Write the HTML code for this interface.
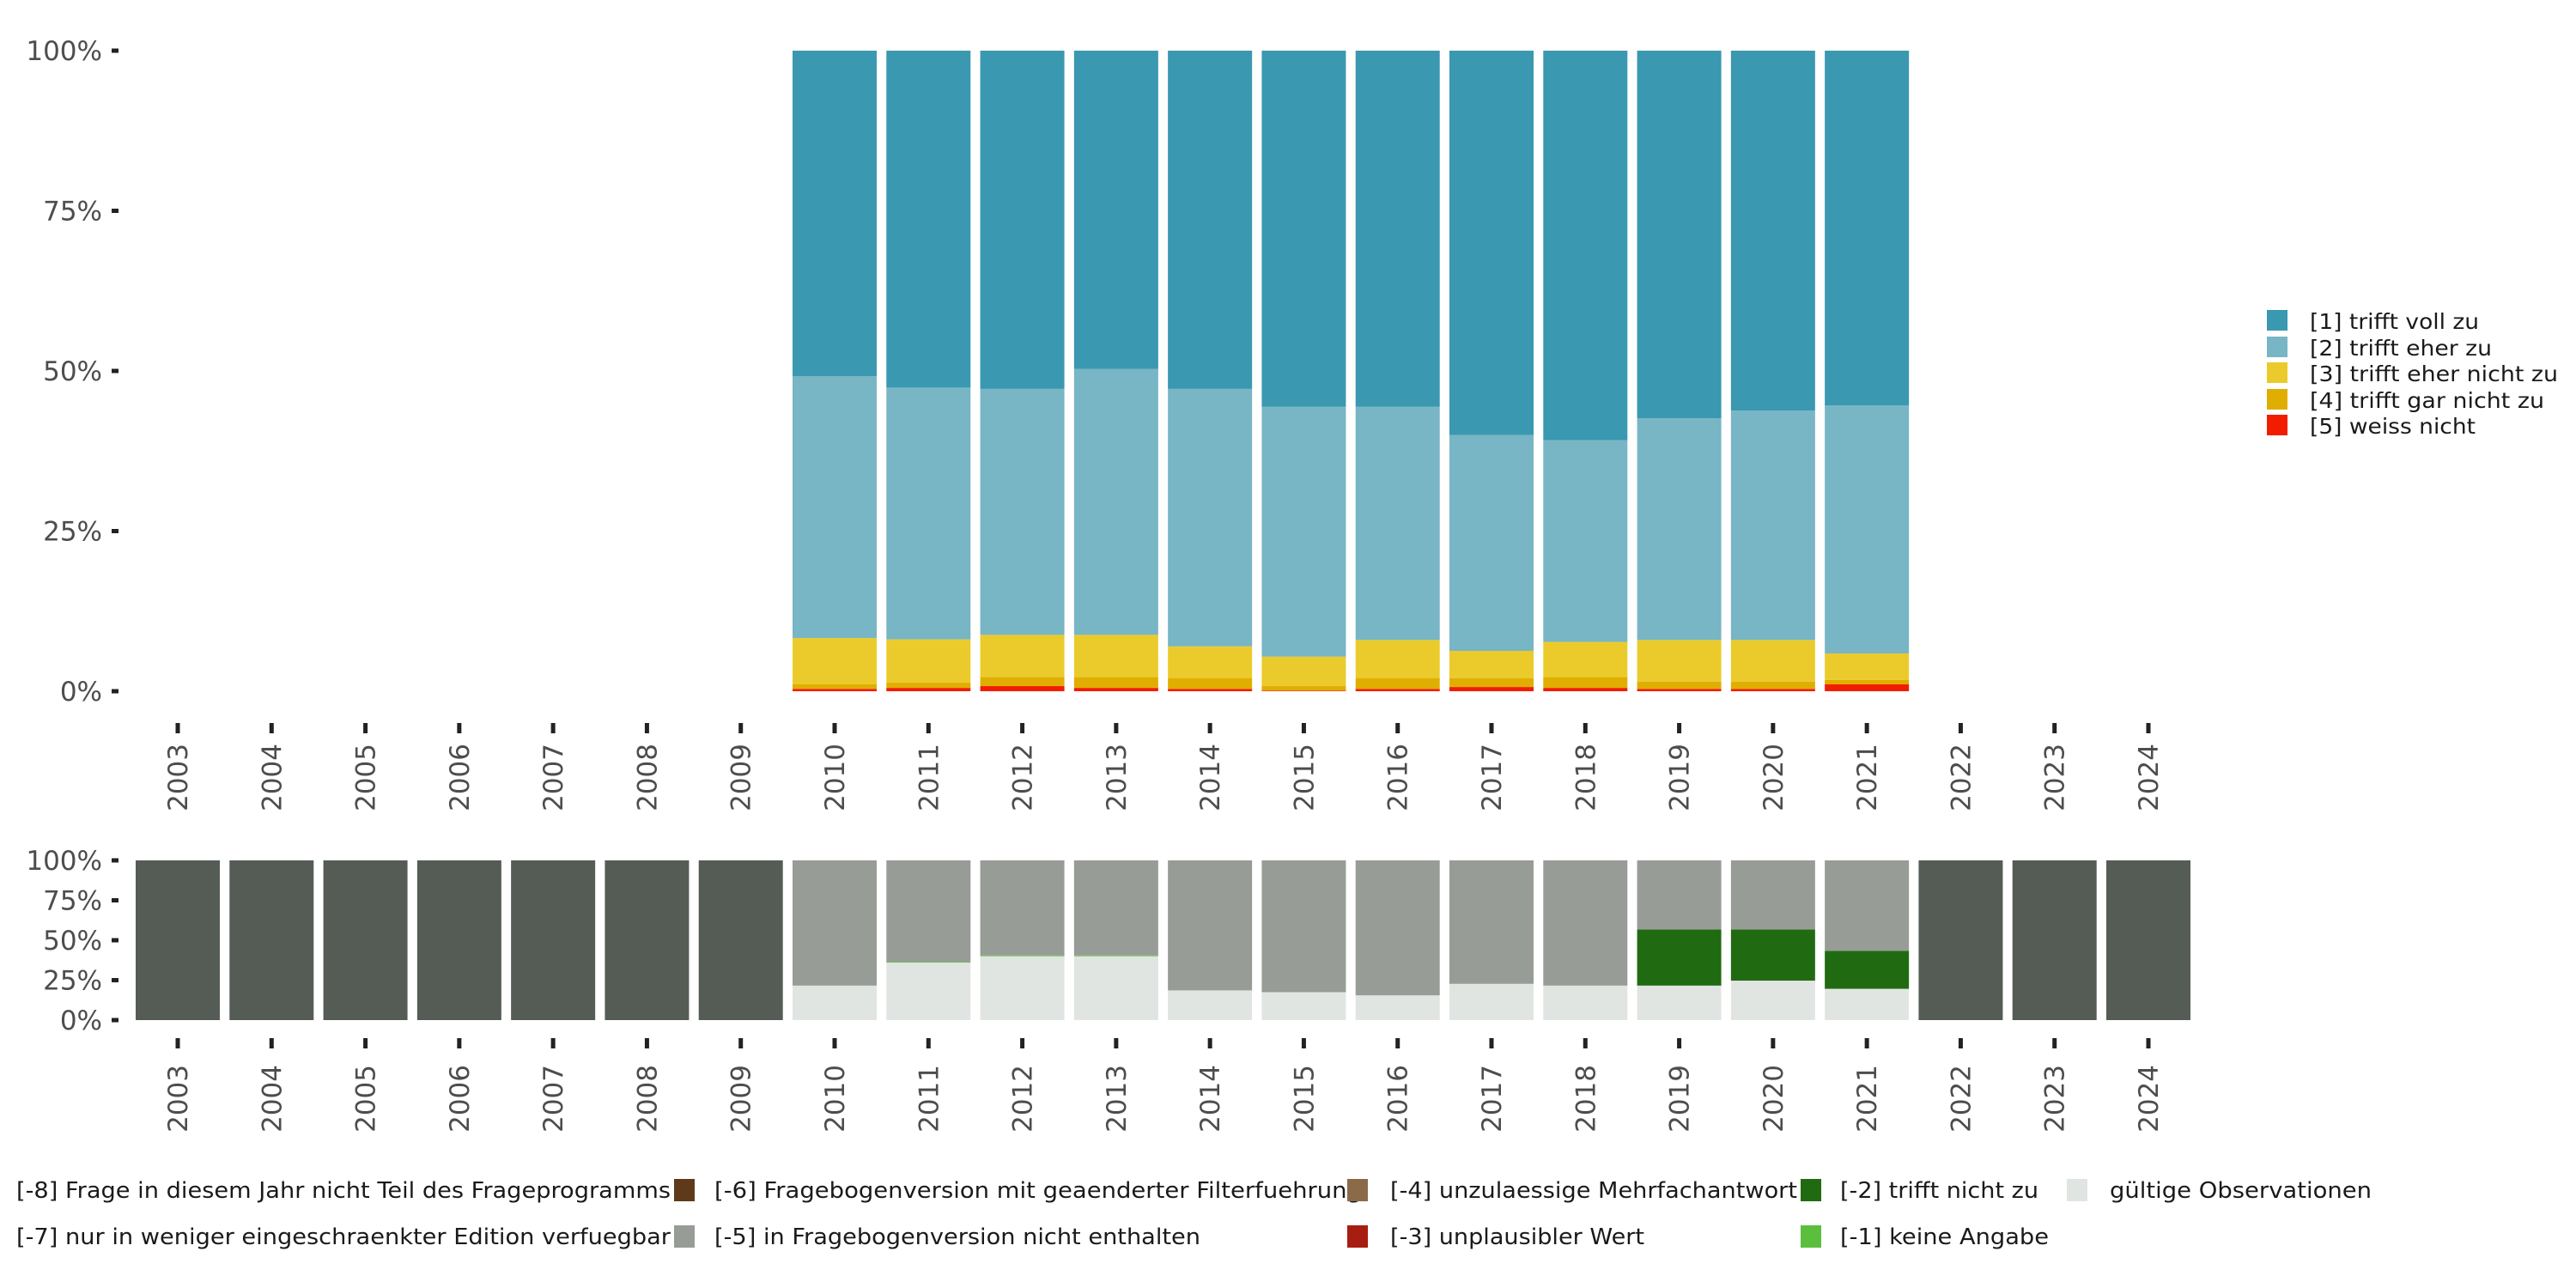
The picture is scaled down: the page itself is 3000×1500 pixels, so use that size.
<!DOCTYPE html>
<html><head><meta charset="utf-8"><style>
body{margin:0;background:#fff}
svg{display:block;font-family:"DejaVu Sans","Liberation Sans",sans-serif}
</style></head><body>
<svg id="chart" width="3000" height="1500" viewBox="0 0 3000 1500" xmlns="http://www.w3.org/2000/svg"></svg>
<script>
const years = [2003,2004,2005,2006,2007,2008,2009,2010,2011,2012,2013,2014,2015,2016,2017,2018,2019,2020,2021,2022,2023,2024];
const topYears = [2010,2011,2012,2013,2014,2015,2016,2017,2018,2019,2020,2021];
const s5 = [0.37,0.52,0.8,0.52,0.37,0.1,0.37,0.66,0.52,0.37,0.37,1.07];
const s4 = [0.70,0.84,1.4,1.68,1.69,0.7,1.69,1.4,1.68,1.13,1.13,0.71];
const s3 = [7.23,6.74,6.6,6.6,4.94,4.6,5.94,4.24,5.5,6.5,6.5,4.12];
const s2 = [40.9,39.3,38.4,41.5,40.2,39.0,36.4,33.7,31.5,34.6,35.8,38.7];
const s1 = [50.8,52.6,52.8,49.7,52.8,55.6,55.6,60.0,60.8,57.4,56.2,55.4];
const yTicks = [0,25,50,75,100];
const yTickLabels = ["0%","25%","50%","75%","100%"];
const bValid = [0,0,0,0,0,0,0,21.6,36,40,40,18.6,17.5,15.5,22.7,21.6,21.6,24.7,19.6,0,0,0];
const bM1 = [0,0,0,0,0,0,0,0,0.5,0.5,0.5,0,0,0,0,0,0,0,0,0,0,0];
const bM2 = [0,0,0,0,0,0,0,0,0,0,0,0,0,0,0,0,35.1,32,23.7,0,0,0];
const bM5 = [0,0,0,0,0,0,0,78.4,63.5,59.5,59.5,81.4,82.5,84.5,77.3,78.4,43.3,43.3,56.7,0,0,0];
const bM8 = [100,100,100,100,100,100,100,0,0,0,0,0,0,0,0,0,0,0,0,100,100,100];

const NS="http://www.w3.org/2000/svg";
const svg=document.getElementById('chart');
function el(t,a,txt){const e=document.createElementNS(NS,t);for(const k in a)e.setAttribute(k,a[k]);if(txt!==undefined)e.textContent=txt;svg.appendChild(e);return e;}
const x0=207, step=(2502-207)/21, bw=98;
const xC=y=>x0+(y-2003)*step;
const yTop=v=>805-(v/100)*746;
const yBot=v=>1188-(v/100)*186;

const topSeries=[[s5,'#f21d00','weiss-nicht'],[s4,'#e0ae00','trifft-gar-nicht-zu'],[s3,'#ebcb2b','trifft-eher-nicht-zu'],[s2,'#78b5c5','trifft-eher-zu'],[s1,'#3a98b1','trifft-voll-zu']];
topYears.forEach((yr,i)=>{let c=0;topSeries.forEach(([arr,col,nm])=>{const v=arr[i];const r=el('rect',{x:xC(yr)-bw/2,y:yTop(c+v),width:bw,height:yTop(c)-yTop(c+v),fill:col});

c+=v;});});
const botSeries=[[bValid,'#e1e5e1','gueltig'],[bM1,'#5bbf3d','keine-angabe'],[bM2,'#206b12','trifft-nicht-zu'],[bM5,'#989c96','nicht-enthalten'],[bM8,'#555c55','nicht-teil']];
years.forEach((yr,i)=>{let c=0;botSeries.forEach(([arr,col,nm])=>{const v=arr[i];if(v<=0)return;const r=el('rect',{x:xC(yr)-bw/2,y:yBot(c+v),width:bw,height:yBot(c)-yBot(c+v),fill:col});

c+=v;});});

yTicks.forEach((t,i)=>{
 let tk=el('rect',{x:130,y:yTop(t)-2.5,width:8,height:5,fill:'#222'});
 
 
 let tl=el('text',{x:119,y:yTop(t)+11,'font-size':31,fill:'#4d4d4d','text-anchor':'end'},yTickLabels[i]);
 
 
 let tk2=el('rect',{x:130,y:yBot(t)-2.5,width:8,height:5,fill:'#222'});
 
 
 let tl2=el('text',{x:119,y:yBot(t)+11,'font-size':31,fill:'#4d4d4d','text-anchor':'end'},yTickLabels[i]);
 
 
});
years.forEach(yr=>{
 const x=xC(yr);
 let a=el('rect',{x:x-2.5,y:842,width:5,height:12,fill:'#222'});
 
 
 let t=el('text',{x:0,y:0,'font-size':31,fill:'#4d4d4d','text-anchor':'end',transform:`translate(${x+11},866) rotate(-90)`},String(yr));
 
 
 let b=el('rect',{x:x-2.5,y:1209,width:5,height:12,fill:'#222'});
 
 
 let t2=el('text',{x:0,y:0,'font-size':31,fill:'#4d4d4d','text-anchor':'end',transform:`translate(${x+11},1240) rotate(-90)`},String(yr));
 
 
});
</script>
<svg style="position:absolute;left:0;top:0" width="3000" height="1500">
<g font-size="25" fill="#1a1a1a" font-family="DejaVu Sans, sans-serif" lengthAdjust="spacingAndGlyphs">
<rect x="2640" y="361" width="24" height="24" fill="#3a98b1"/><text x="2690" y="383" textLength="197" lengthAdjust="spacingAndGlyphs">[1] trifft voll zu</text>
<rect x="2640" y="392" width="24" height="24" fill="#78b5c5"/><text x="2690" y="414" textLength="212" lengthAdjust="spacingAndGlyphs">[2] trifft eher zu</text>
<rect x="2640" y="422" width="24" height="24" fill="#ebcb2b"/><text x="2690" y="444" textLength="289" lengthAdjust="spacingAndGlyphs">[3] trifft eher nicht zu</text>
<rect x="2640" y="453" width="24" height="24" fill="#e0ae00"/><text x="2690" y="475" textLength="273" lengthAdjust="spacingAndGlyphs">[4] trifft gar nicht zu</text>
<rect x="2640" y="483" width="24" height="24" fill="#f21d00"/><text x="2690" y="505" textLength="193" lengthAdjust="spacingAndGlyphs">[5] weiss nicht</text>
</g>
<g font-size="26" fill="#1a1a1a" font-family="DejaVu Sans, sans-serif">
<text x="19" y="1395" textLength="762" lengthAdjust="spacingAndGlyphs">[-8] Frage in diesem Jahr nicht Teil des Frageprogramms</text>
<text x="19" y="1449" textLength="762" lengthAdjust="spacingAndGlyphs">[-7] nur in weniger eingeschraenkter Edition verfuegbar</text>
<rect x="785" y="1373" width="24" height="26" fill="#5e3a1a"/>
<rect x="785" y="1427" width="24" height="26" fill="#989c96"/>
<text x="832" y="1395" textLength="754" lengthAdjust="spacingAndGlyphs">[-6] Fragebogenversion mit geaenderter Filterfuehrung</text>
<text x="832" y="1449" textLength="566" lengthAdjust="spacingAndGlyphs">[-5] in Fragebogenversion nicht enthalten</text>
<rect x="1569" y="1373" width="24" height="26" fill="#8a6a48"/>
<rect x="1569" y="1427" width="24" height="26" fill="#a81d11"/>
<text x="1619" y="1395" textLength="474" lengthAdjust="spacingAndGlyphs">[-4] unzulaessige Mehrfachantwort</text>
<text x="1619" y="1449" textLength="296" lengthAdjust="spacingAndGlyphs">[-3] unplausibler Wert</text>
<rect x="2097" y="1373" width="24" height="26" fill="#206b12"/>
<rect x="2097" y="1427" width="24" height="26" fill="#5bbf3d"/>
<text x="2143" y="1395" textLength="231" lengthAdjust="spacingAndGlyphs">[-2] trifft nicht zu</text>
<text x="2143" y="1449" textLength="243" lengthAdjust="spacingAndGlyphs">[-1] keine Angabe</text>
<rect x="2407" y="1373" width="24" height="26" fill="#e1e5e1"/>
<text x="2457" y="1395" textLength="305" lengthAdjust="spacingAndGlyphs">gültige Observationen</text>
</g>
</svg>
</body></html>
